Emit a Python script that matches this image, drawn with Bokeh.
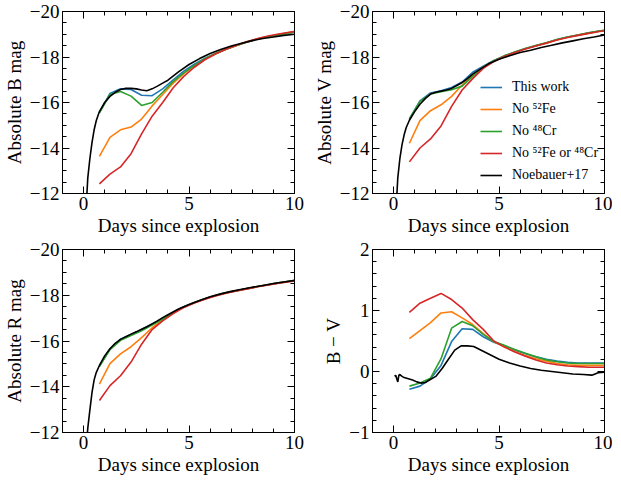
from bokeh.plotting import figure
from bokeh.layouts import gridplot
from bokeh.models import (Range1d, FixedTicker, LinearAxis, CustomJSTickFormatter,
                          Legend, LegendItem)
from bokeh.embed import file_html
from bokeh.resources import INLINE

FONT = "'Liberation Serif'"

# ---------------- data ----------------
t_sim = [0.75, 1.25, 1.75, 2.25, 2.75, 3.25, 3.75, 4.25, 4.75, 5.25,
         5.75, 6.25, 6.75, 7.25, 7.75, 8.25, 8.75, 9.25, 9.75, 10.25]

labels = ["This work", "No \u2075\u00b2Fe", "No \u2074\u2078Cr",
          "No \u2075\u00b2Fe or \u2074\u2078Cr", "Noebauer+17"]
colors = ["#1f77b4", "#ff7f0e", "#2ca02c", "#d62728", "black"]

# B band
B_this = [-15.55, -16.40, -16.60, -16.57, -16.32, -16.30, -16.60, -17.00, -17.38, -17.68,
          -17.95, -18.15, -18.34, -18.51, -18.66, -18.79, -18.89, -18.98, -19.06, -19.13]
B_nofe = [-13.63, -14.47, -14.80, -14.92, -15.27, -15.85, -16.35, -16.85, -17.27, -17.60,
          -17.91, -18.14, -18.34, -18.51, -18.66, -18.79, -18.90, -18.99, -19.07, -19.14]
B_nocr = [-15.55, -16.35, -16.48, -16.28, -15.87, -16.00, -16.45, -16.93, -17.30, -17.63,
          -17.92, -18.14, -18.34, -18.51, -18.66, -18.79, -18.89, -18.98, -19.06, -19.13]
B_none = [-12.42, -12.85, -13.17, -13.75, -14.62, -15.40, -16.00, -16.65, -17.15, -17.55,
          -17.88, -18.13, -18.34, -18.52, -18.68, -18.81, -18.92, -19.01, -19.09, -19.16]
t_noe = [0.10, 0.20, 0.30, 0.40, 0.50, 0.60, 0.75, 1.00, 1.25, 1.50, 1.75, 2.00, 2.25,
         2.50, 2.75, 3.00, 3.25, 3.50, 3.75, 4.00, 4.50, 5.00, 5.50, 6.00, 6.50, 7.00,
         7.50, 8.00, 8.50, 9.00, 9.50, 10.00]
B_noe = [-11.00, -12.70, -13.55, -14.25, -14.80, -15.20, -15.60, -16.00, -16.27, -16.45,
         -16.57, -16.62, -16.62, -16.60, -16.55, -16.52, -16.60, -16.72, -16.85, -16.98,
         -17.35, -17.67, -17.93, -18.15, -18.33, -18.48, -18.60, -18.72, -18.81, -18.88,
         -18.95, -19.00]

# V band
V_this = [-15.28, -16.07, -16.42, -16.52, -16.66, -16.90, -17.33, -17.60, -17.85, -18.05,
          -18.22, -18.37, -18.50, -18.63, -18.77, -18.88, -18.97, -19.06, -19.14, -19.21]
V_nofe = [-14.21, -15.20, -15.64, -15.90, -16.27, -16.77, -17.20, -17.55, -17.83, -18.04,
          -18.21, -18.36, -18.49, -18.62, -18.76, -18.87, -18.96, -19.05, -19.13, -19.20]
V_nocr = [-15.28, -16.05, -16.37, -16.47, -16.56, -16.72, -17.15, -17.55, -17.84, -18.05,
          -18.22, -18.37, -18.50, -18.63, -18.77, -18.88, -18.97, -19.06, -19.14, -19.21]
V_none = [-13.39, -14.00, -14.40, -14.97, -15.83, -16.55, -17.05, -17.50, -17.80, -18.02,
          -18.20, -18.35, -18.48, -18.61, -18.75, -18.86, -18.95, -19.04, -19.12, -19.19]
V_noe = [-11.00, -12.70, -13.55, -14.15, -14.58, -14.90, -15.22, -15.60, -15.92, -16.17,
         -16.37, -16.45, -16.50, -16.55, -16.62, -16.75, -16.88, -17.05, -17.25, -17.40,
         -17.70, -17.90, -18.05, -18.20, -18.30, -18.42, -18.52, -18.62, -18.71, -18.80,
         -18.88, -18.97]

# R band
R_this = [-14.89, -15.65, -16.08, -16.29, -16.50, -16.75, -16.98, -17.25, -17.50, -17.68,
          -17.85, -17.99, -18.11, -18.20, -18.29, -18.38, -18.46, -18.54, -18.61, -18.67]
R_nofe = [-14.11, -15.01, -15.44, -15.75, -16.15, -16.58, -16.92, -17.22, -17.48, -17.67,
          -17.84, -17.98, -18.10, -18.20, -18.29, -18.38, -18.46, -18.54, -18.60, -18.66]
R_nocr = [-14.89, -15.62, -16.03, -16.24, -16.45, -16.70, -16.95, -17.23, -17.49, -17.68,
          -17.85, -17.99, -18.11, -18.20, -18.29, -18.38, -18.46, -18.54, -18.61, -18.67]
R_none = [-13.40, -14.05, -14.48, -15.08, -15.86, -16.50, -16.88, -17.20, -17.46, -17.66,
          -17.83, -17.97, -18.09, -18.19, -18.28, -18.37, -18.45, -18.53, -18.59, -18.65]
R_noe = [-11.00, -12.20, -13.00, -13.75, -14.30, -14.62, -14.93, -15.35, -15.66, -15.90,
         -16.07, -16.19, -16.30, -16.40, -16.51, -16.62, -16.75, -16.88, -17.02, -17.15,
         -17.40, -17.60, -17.77, -17.93, -18.06, -18.17, -18.26, -18.35, -18.43, -18.51,
         -18.58, -18.65]

# B - V colour
BV_this = [-0.29, -0.24, -0.12, 0.10, 0.49, 0.70, 0.69, 0.57, 0.48, 0.42,
           0.35, 0.29, 0.24, 0.20, 0.17, 0.15, 0.14, 0.14, 0.14, 0.14]
BV_nofe = [0.54, 0.67, 0.80, 0.96, 0.98, 0.88, 0.77, 0.62, 0.49, 0.41,
           0.33, 0.26, 0.21, 0.17, 0.13, 0.11, 0.10, 0.10, 0.10, 0.10]
BV_nocr = [-0.24, -0.19, -0.11, 0.21, 0.71, 0.82, 0.75, 0.61, 0.49, 0.43,
           0.36, 0.30, 0.24, 0.19, 0.16, 0.14, 0.13, 0.13, 0.13, 0.13]
BV_none = [0.97, 1.12, 1.20, 1.28, 1.18, 1.04, 0.85, 0.69, 0.50, 0.40,
           0.32, 0.25, 0.19, 0.14, 0.11, 0.09, 0.08, 0.07, 0.07, 0.07]
t_noe_bv = [0.05, 0.10, 0.15, 0.20, 0.25, 0.30, 0.40, 0.50, 0.70, 0.90, 1.10, 1.30,
            1.50, 1.70, 2.00, 2.30, 2.60, 2.90, 3.20, 3.50, 3.80, 4.20, 4.60, 5.00,
            5.50, 6.00, 6.50, 7.00, 7.50, 8.00, 8.50, 9.00, 9.40, 9.70, 10.00]
BV_noe = [-0.08, -0.06, -0.12, -0.17, -0.06, -0.05, -0.08, -0.10, -0.12, -0.14, -0.17,
          -0.19, -0.18, -0.14, -0.08, 0.05, 0.20, 0.35, 0.42, 0.42, 0.41, 0.34, 0.27,
          0.20, 0.14, 0.09, 0.05, 0.02, 0.00, -0.02, -0.04, -0.05, -0.06, -0.02, -0.01]

x_major = [0, 5, 10]
x_minor = [-1, 1, 2, 3, 4, 6, 7, 8, 9]
mag_major = [-20, -18, -16, -14, -12]
mag_minor = [-19.5, -19, -18.5, -17.5, -17, -16.5, -15.5, -15, -14.5, -13.5, -13, -12.5]
bv_major = [-1, 0, 1, 2]
bv_minor = [-0.8, -0.6, -0.4, -0.2, 0.2, 0.4, 0.6, 0.8, 1.2, 1.4, 1.6, 1.8]

# ---------------- plotting ----------------
fmt_code = "return tick < 0 ? '\u2212' + Math.abs(tick) : String(tick);"


def style_axis(ax, labels_on=True):
    ax.major_tick_in = 7
    ax.major_tick_out = 0
    ax.minor_tick_in = 4
    ax.minor_tick_out = 0
    ax.axis_line_color = "black"
    ax.major_tick_line_color = "black"
    ax.minor_tick_line_color = "black"
    ax.major_label_text_font = FONT
    ax.axis_label_text_font = FONT
    ax.axis_label_text_font_style = "normal"
    ax.axis_label_text_color = "black"
    ax.major_label_text_color = "black"
    ax.axis_label_text_font_size = "19px"
    ax.major_label_text_font_size = "19px"
    ax.major_label_standoff = 3
    ax.axis_label_standoff = 2
    if labels_on:
        ax.formatter = CustomJSTickFormatter(code=fmt_code)
    else:
        ax.formatter = CustomJSTickFormatter(code="return '';")
        ax.major_label_standoff = 0


def make_fig(width, height, yr, ymaj, ymin, ylabel, bl, br, bt, bb):
    p = figure(width=width, height=height, x_range=Range1d(-1, 10), y_range=yr,
               output_backend="svg", toolbar_location=None,
               min_border_left=bl, min_border_right=br, min_border_top=bt,
               min_border_bottom=bb)
    p.grid.visible = False
    p.outline_line_color = "black"
    p.outline_line_width = 1
    p.background_fill_color = "white"
    p.border_fill_color = "white"
    xt = FixedTicker(ticks=x_major, minor_ticks=x_minor)
    yt = FixedTicker(ticks=ymaj, minor_ticks=ymin)
    p.xaxis.ticker = xt
    p.yaxis.ticker = yt
    for ax in p.xaxis:
        style_axis(ax)
    for ax in p.yaxis:
        style_axis(ax)
    p.xaxis.axis_label = "Days since explosion"
    p.yaxis.axis_label = ylabel
    top = LinearAxis(ticker=FixedTicker(ticks=x_major, minor_ticks=x_minor))
    right = LinearAxis(ticker=FixedTicker(ticks=ymaj, minor_ticks=ymin))
    style_axis(top, False)
    style_axis(right, False)
    p.add_layout(top, "above")
    p.add_layout(right, "right")
    return p


def draw(p, sims, noe_t, noe_y):
    rs = []
    for ys, c in zip(sims, colors[:4]):
        rs.append(p.line(t_sim, ys, line_color=c, line_width=1.6))
    rs.append(p.line(noe_t, noe_y, line_color=colors[4], line_width=1.6))
    return rs


p1 = make_fig(310, 238, Range1d(-12, -20), mag_major, mag_minor, "Absolute B mag",
              56, 16, 11, 44)
draw(p1, [B_this, B_nofe, B_nocr, B_none], t_noe, B_noe)

p2 = make_fig(302, 238, Range1d(-12, -20), mag_major, mag_minor, "Absolute V mag",
              56, 8, 11, 44)
r2 = draw(p2, [V_this, V_nofe, V_nocr, V_none], t_noe, V_noe)

legend = Legend(items=[LegendItem(label=l, renderers=[r]) for l, r in zip(labels, r2)],
                location=(108, 7))
legend.glyph_width = 22
legend.glyph_height = 22
legend.label_height = 22
legend.label_standoff = 10
legend.spacing = 0
legend.padding = 0
legend.margin = 0
legend.border_line_alpha = 0
legend.background_fill_alpha = 0
legend.label_text_font = FONT
legend.label_text_font_size = "14px"
legend.label_text_color = "black"
p2.add_layout(legend)

p3 = make_fig(310, 239, Range1d(-12, -20), mag_major, mag_minor, "Absolute R mag",
              56, 16, 11, 42)
draw(p3, [R_this, R_nofe, R_nocr, R_none], t_noe, R_noe)

p4 = make_fig(302, 239, Range1d(-1, 2), bv_major, bv_minor, "B \u2212 V",
              56, 8, 11, 42)
draw(p4, [BV_this, BV_nofe, BV_nocr, BV_none], t_noe_bv, BV_noe)

grid = gridplot([[p1, p2], [p3, p4]], toolbar_location=None)

open("out.html", "w").write(file_html(grid, INLINE))
